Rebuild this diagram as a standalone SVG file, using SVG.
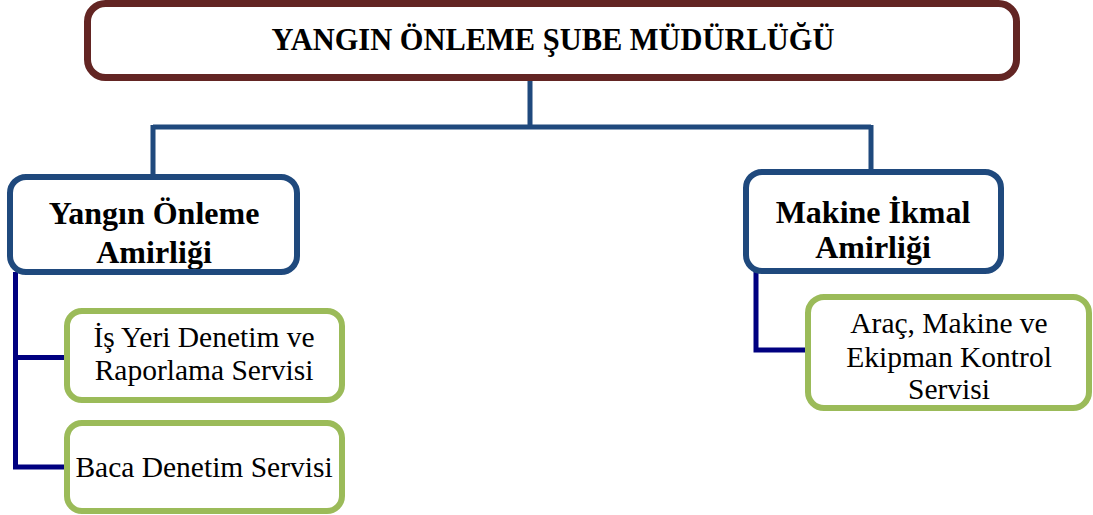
<svg xmlns="http://www.w3.org/2000/svg" width="1093" height="515" viewBox="0 0 1093 515">
<style>
.top{fill:#fff;stroke:#632523;stroke-width:7}
.blue{fill:#fff;stroke:#1F497D;stroke-width:6}
.green{fill:#fff;stroke:#9BBB59;stroke-width:6}
.nofill{fill:none}
.t1{font-family:"Liberation Serif","Times New Roman",serif;font-weight:bold;font-size:32px;fill:#000;text-anchor:middle}
.t2{font-family:"Liberation Serif","Times New Roman",serif;font-weight:bold;font-size:32px;fill:#000;text-anchor:middle}
.t3{font-family:"Liberation Serif","Times New Roman",serif;font-size:29.5px;fill:#000;text-anchor:middle}
.cb{fill:none;stroke:#1F497D;stroke-width:5}
.cn{fill:none;stroke:#000080;stroke-width:5}
</style>
<g id="connectors">
<path class="cb" d="M530 78 V127 M153 127 H871 M153 125 V177 M871 125 V172"/>
<path class="cn" d="M15.5 272 V467 M13 357.5 H67 M13 467 H67"/>
<path class="cn" d="M756 271 V350 M753.5 350 H808"/>
</g>
<g id="n_sube">
<rect class="top" x="87.5" y="3.5" width="929" height="74" rx="18"/>
<text class="t1" x="553" y="50" textLength="563" lengthAdjust="spacingAndGlyphs">YANGIN ÖNLEME ŞUBE MÜDÜRLÜĞÜ</text>
</g>
<g id="n_yangin_amirlik">
<rect x="10" y="177" width="287" height="95" rx="16" fill="#fff"/>
<text class="t2" x="154" y="224">Yangın Önleme</text>
<text class="t2" x="154" y="263">Amirliği</text>
<rect class="blue nofill" x="10" y="177" width="287" height="95" rx="16"/>
</g>
<g id="n_makine_amirlik">
<rect x="746" y="172" width="255" height="99" rx="16" fill="#fff"/>
<text class="t2" x="873" y="223">Makine İkmal</text>
<text class="t2" x="873" y="258">Amirliği</text>
<rect class="blue nofill" x="746" y="172" width="255" height="99" rx="16"/>
</g>
<g id="n_isyeri">
<rect class="green" x="67" y="311" width="275" height="89" rx="15"/>
<text class="t3" x="204" y="347">İş Yeri Denetim ve</text>
<text class="t3" x="204" y="380">Raporlama Servisi</text>
</g>
<g id="n_baca">
<rect class="green" x="67" y="423" width="275" height="88" rx="15"/>
<text class="t3" x="204" y="477">Baca Denetim Servisi</text>
</g>
<g id="n_arac">
<rect x="808" y="297" width="281" height="111" rx="16" fill="#fff"/>
<text class="t3" x="949" y="333">Araç, Makine ve</text>
<text class="t3" x="949" y="367">Ekipman Kontrol</text>
<text class="t3" x="949" y="399">Servisi</text>
<rect class="green nofill" x="808" y="297" width="281" height="111" rx="16"/>
</g>
</svg>
